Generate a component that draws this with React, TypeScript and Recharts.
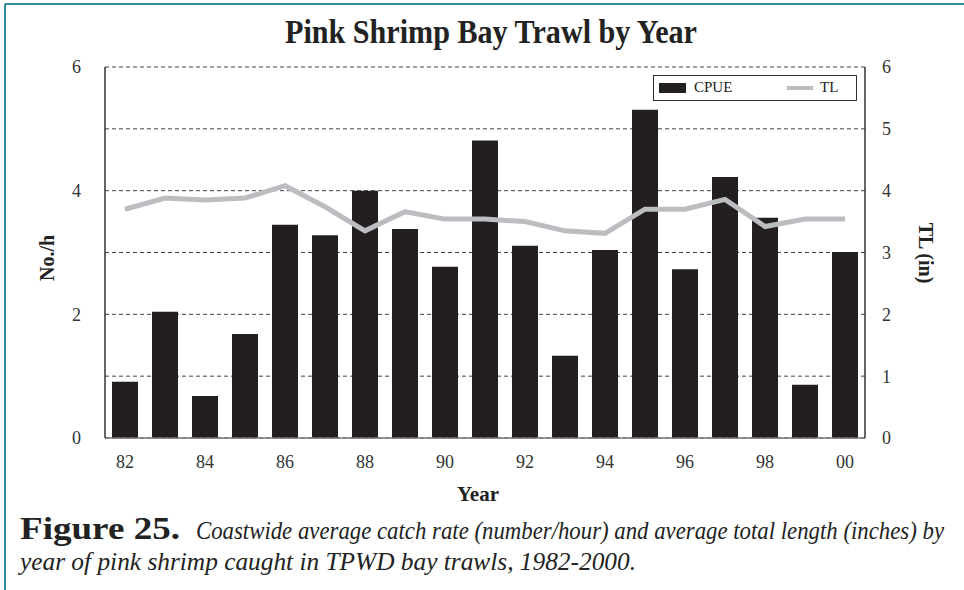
import React from "react";
import { ComposedChart, Bar, Line, XAxis, YAxis, CartesianGrid } from "recharts";

const years = ["82","83","84","85","86","87","88","89","90","91","92","93","94","95","96","97","98","99","00"];
const cpue = [0.91, 2.04, 0.68, 1.68, 3.45, 3.28, 4.0, 3.38, 2.77, 4.81, 3.11, 1.33, 3.04, 5.31, 2.73, 4.22, 3.56, 0.86, 3.01];
const tl = [3.7, 3.88, 3.85, 3.88, 4.08, 3.74, 3.35, 3.66, 3.54, 3.54, 3.5, 3.35, 3.31, 3.7, 3.7, 3.86, 3.42, 3.54, 3.54];
const leftTicks = [0, 2, 4, 6];
const rightTicks = [0, 1, 2, 3, 4, 5, 6];
const xTicks = ["82","84","86","88","90","92","94","96","98","00"];

const data = years.map((y, i) => ({ year: y, cpue: cpue[i], tl: tl[i] }));

const serif = "'Liberation Serif', 'DejaVu Serif', serif";
const tickStyle = { fontFamily: serif, fontSize: 18, fill: "#333" };

const LegendBox = () => (
  <div style={{ position: "absolute", left: 653, top: 75, width: 204, height: 26, border: "1.3px solid #333", boxSizing: "border-box", fontFamily: serif, fontSize: 15, color: "#222", background: "#fff" }}>
    <div style={{ position: "absolute", left: 5, top: 7, width: 27, height: 10, background: "#231f20" }} />
    <div style={{ position: "absolute", left: 40, top: 3 }}>CPUE</div>
    <div style={{ position: "absolute", left: 133, top: 10, width: 26, height: 4, background: "#bcbdc0" }} />
    <div style={{ position: "absolute", left: 166, top: 3 }}>TL</div>
  </div>
);

const SX = 0.82;

export default function App() {
  return (
    <div style={{ position: "absolute", left: 0, top: 0, width: 964, height: 590, background: "#fff" }}>
      <ComposedChart
        width={964}
        height={590}
        data={data}
        margin={{ top: 67, right: 39, bottom: 122, left: 45 }}
        barCategoryGap={0}
      >
        <CartesianGrid yAxisId="right" vertical={false} horizontal={true} stroke="#444" strokeDasharray="4 3" strokeWidth={1} />
        <XAxis dataKey="year" ticks={xTicks} interval={0} tickSize={0} tickMargin={17} tick={tickStyle} axisLine={{ stroke: "#777", strokeWidth: 1.5 }} height={30} />
        <YAxis yAxisId="left" orientation="left" domain={[0, 6]} ticks={leftTicks} tickSize={0} tickMargin={24} tick={tickStyle} axisLine={{ stroke: "#333", strokeWidth: 1.5 }} width={60} />
        <YAxis yAxisId="right" orientation="right" domain={[0, 6]} ticks={rightTicks} tickSize={0} tickMargin={17} tick={tickStyle} axisLine={{ stroke: "#333", strokeWidth: 1.5 }} width={60} />
        <Bar yAxisId="left" dataKey="cpue" fill="#231f20" barSize={26} isAnimationActive={false} />
        <Line yAxisId="right" dataKey="tl" type="linear" stroke="#bcbdc0" strokeWidth={5} dot={false} isAnimationActive={false} />
      </ComposedChart>
      <LegendBox />
      <svg width={964} height={590} style={{ position: "absolute", left: 0, top: 0, pointerEvents: "none" }}>
        <line x1={5} y1={4} x2={964} y2={4} stroke="#2f8a9c" strokeWidth={2} />
        <line x1={5} y1={4} x2={5} y2={590} stroke="#2f8a9c" strokeWidth={2} />
        <text x={491} y={43} textAnchor="middle" fontFamily={serif} fontWeight="bold" fontSize={33} fill="#222" textLength={412} lengthAdjust="spacingAndGlyphs">Pink Shrimp Bay Trawl by Year</text>
        <text transform="translate(54,258) rotate(-90)" textAnchor="middle" fontFamily={serif} fontWeight="bold" fontSize={20} fill="#222">No./h</text>
        <text transform="translate(919,253) rotate(90)" textAnchor="middle" fontFamily={serif} fontWeight="bold" fontSize={20} fill="#222">TL (in)</text>
        <text x={478} y={501} textAnchor="middle" fontFamily={serif} fontWeight="bold" fontSize={21} fill="#222">Year</text>
        <text x={20} y={539} fontFamily={serif} fontWeight="bold" fontSize={31} fill="#222" textLength={160} lengthAdjust="spacingAndGlyphs">Figure 25.</text>
        <text transform={`translate(196,539) scale(${SX},1)`} fontFamily={serif} fontStyle="italic" fontSize={26} fill="#222" textLength={748 / SX} lengthAdjust="spacingAndGlyphs">Coastwide average catch rate (number/hour) and average total length (inches) by</text>
        <text transform={`translate(20,570) scale(${SX},1)`} fontFamily={serif} fontStyle="italic" fontSize={26} fill="#222" textLength={616 / SX} lengthAdjust="spacingAndGlyphs">year of pink shrimp caught in TPWD bay trawls, 1982-2000.</text>
      </svg>
    </div>
  );
}
